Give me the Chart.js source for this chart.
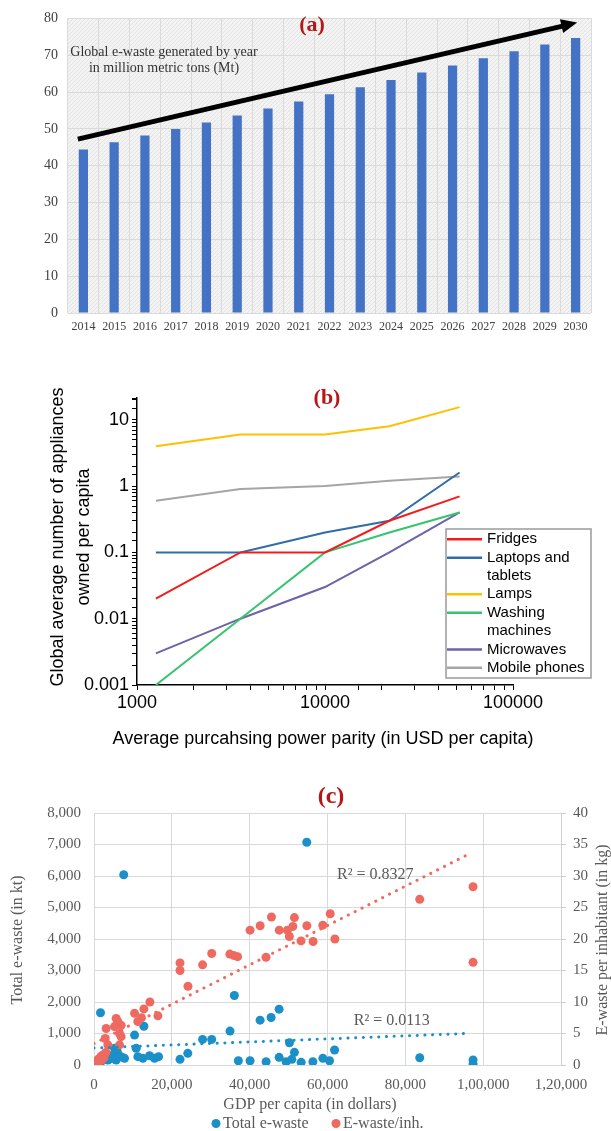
<!DOCTYPE html>
<html>
<head>
<meta charset="utf-8">
<script src="https://cdn.jsdelivr.net/npm/chart.js@4.4.1/dist/chart.umd.min.js"></script>
<style>
  html, body { margin: 0; padding: 0; background: #fff; }
  body { width: 611px; height: 1131px; position: relative; overflow: hidden; }
  .panel { position: absolute; left: 0; width: 611px; }
  .panel canvas { display: block; }
  #boxA { top: 0; }
  #boxB { top: 370px; }
  #boxC { top: 780px; }
</style>
</head>
<body>
<div class="panel" id="boxA"><canvas id="chartA" width="611" height="345"></canvas></div>
<div class="panel" id="boxB"><canvas id="chartB" width="611" height="400"></canvas></div>
<div class="panel" id="boxC"><canvas id="chartC" width="611" height="351"></canvas></div>
<script>
// ---- (a) global e-waste by year ----
const years = ['2014', '2015', '2016', '2017', '2018', '2019', '2020', '2021', '2022',
               '2023', '2024', '2025', '2026', '2027', '2028', '2029', '2030'];
const ewasteMt = [44.4, 46.4, 48.2, 50.0, 51.7, 53.6, 55.5, 57.4, 59.4,
                  61.3, 63.3, 65.3, 67.2, 69.2, 71.1, 72.9, 74.7];
const yTicksA = [0, 10, 20, 30, 40, 50, 60, 70, 80];
const arrowFrom = [-0.18, 47.2];   // [category index, Mt]
const arrowTo = [16.05, 78.9];

// ---- (b) appliances owned per capita vs PPP ----
const pppLevels = [1260, 3550, 10000, 22000, 52000];
const fridges = [0.02, 0.1, 0.1, 0.3, 0.7];
const laptops = [0.1, 0.1, 0.2, 0.3, 1.6];
const lamps = [4, 6, 6, 8, 15.5];
const washingMachines = [0.001, 0.01, 0.1, 0.2, 0.4];
const microwaves = [0.003, 0.01, 0.03, 0.1, 0.4];
const mobilePhones = [0.6, 0.9, 1.0, 1.2, 1.4];
const applianceNames = ['Fridges', 'Laptops and tablets', 'Lamps', 'Washing machines', 'Microwaves', 'Mobile phones'];
const applianceLegendLines = [['Fridges'], ['Laptops and', 'tablets'], ['Lamps'], ['Washing', 'machines'], ['Microwaves'], ['Mobile phones']];

// ---- (c) e-waste vs GDP per capita ----
const gdpTotal = [400, 900, 1670, 1830, 2600, 3000, 3550, 4200, 4840, 5270, 5700, 6000, 6980, 7640, 7840,
                  10420, 10840, 11270, 12560, 12820, 14270, 15560, 16590, 22100, 24100, 27900, 30240,
                  34950, 36070, 37090, 40100, 42680, 44220, 45510, 47570, 47570, 49370, 50220, 50830,
                  51500, 53230, 54670, 56240, 58810, 60520, 61810, 83700, 97400, 97400];
const totalEwasteKt = [60, 120, 1660, 106, 250, 380, 158, 200, 316, 528, 158, 420, 264, 6040, 211,
                       950, 528, 264, 211, 1230, 295, 211, 264, 180, 370, 813, 813,
                       1076, 2205, 136, 136, 1424, 104, 1509, 1772, 243, 104, 706, 180,
                       402, 85, 7070, 104, 211, 136, 475, 230, 158, 30];
const gdpPerInh = [300, 550, 900, 1200, 1400, 1800, 2000, 2300, 2600, 3100, 3550, 2870, 3120, 5270, 5700,
                   6100, 6980, 6560, 6980, 6560, 10420, 11270, 12200, 12820, 14360, 16420, 22100, 22100,
                   24150, 27900, 30250, 34900, 35900, 36900, 40100, 42700, 44200, 45600, 47600, 49700,
                   50200, 51100, 51500, 53200, 54700, 56300, 58800, 60700, 61900, 83700, 97400, 97400];
const ewastePerInhKg = [0.3, 0.6, 0.8, 0.5, 1.05, 1.4, 0.8, 1.6, 1.2, 2.0, 3.2, 4.2, 5.8, 6.1, 7.4,
                        6.9, 6.3, 5.0, 4.5, 3.2, 8.2, 6.9, 7.5, 8.9, 10.0, 7.8, 16.2, 15.0,
                        12.5, 15.9, 17.7, 17.6, 17.4, 17.2, 21.4, 22.1, 17.1, 23.5, 21.4, 21.4,
                        20.4, 22.0, 23.4, 19.7, 22.1, 19.6, 22.2, 24.0, 20.0, 26.3, 28.3, 16.3];
const trendGdpTotal = [0, 95700];
const trendTotalKt = [540, 1000];
const trendGdpPerInh = [0, 96700];
const trendPerInhKg = [3.4, 33.6];
const r2Texts = ['R² = 0.8327', 'R² = 0.0113'];
const r2Anchors = [[72300, 30.2, 'y1'], [76500, 1400, 'y']];

const serif = "'Liberation Serif', 'Times New Roman', serif";
const sans = "'Liberation Sans', Arial, sans-serif";
const panelRed = '#b51717';

Chart.defaults.animation = false;

function drawText(ctx, text, x, y, font, color, align, rot) {
    ctx.save();
    ctx.translate(x, y);
    if (rot) ctx.rotate(rot);
    ctx.font = font;
    ctx.fillStyle = color;
    ctx.textAlign = align || 'center';
    ctx.textBaseline = 'middle';
    ctx.fillText(text, 0, 0);
    ctx.restore();
}

function indianFormat(v) {
    const s = String(Math.round(v));
    if (s.length <= 3) return s;
    const rest = s.slice(0, -3).replace(/\B(?=(\d{2})+(?!\d))/g, ',');
    return rest + ',' + s.slice(-3);
}

const isDecade = v => Math.abs(Math.log10(v) - Math.round(Math.log10(v))) < 1e-6;

// hatched plot background like the original spreadsheet chart
const hatchTile = document.createElement('canvas');
hatchTile.width = 4; hatchTile.height = 4;
(function () {
    const g = hatchTile.getContext('2d');
    g.fillStyle = '#f3f3f3';
    g.fillRect(0, 0, 4, 4);
    g.strokeStyle = '#e3e3e3';
    g.lineWidth = 1;
    g.beginPath(); g.moveTo(0, 4); g.lineTo(4, 0); g.stroke();
})();

// ================= (a) =================
new Chart(document.getElementById('chartA'), {
    type: 'bar',
    data: {
        labels: years,
        datasets: [{
            data: ewasteMt,
            backgroundColor: '#4472c4',
            barPercentage: 0.3,
            categoryPercentage: 1
        }]
    },
    options: {
        responsive: false,
        layout: { padding: { top: 13, right: 20, bottom: 4, left: 0 } },
        plugins: { legend: { display: false }, tooltip: { enabled: false } },
        scales: {
            x: {
                grid: { color: '#dadada', drawTicks: false },
                border: { display: false },
                ticks: { padding: 7, color: '#404040', font: { family: serif, size: 12 } },
                afterFit: s => { s.height = 28; }
            },
            y: {
                min: 0,
                max: 80,
                afterBuildTicks: s => { s.ticks = yTicksA.map(v => ({ value: v })); },
                grid: { color: '#dadada', drawTicks: false },
                border: { display: false },
                ticks: { padding: 10, color: '#404040', font: { family: serif, size: 14 } },
                afterFit: s => { s.width = 68; }
            }
        }
    },
    plugins: [{
        id: 'panelA',
        beforeDraw(chart) {
            const { ctx, chartArea: a } = chart;
            ctx.save();
            ctx.fillStyle = ctx.createPattern(hatchTile, 'repeat');
            ctx.fillRect(a.left, a.top, a.right - a.left, a.bottom - a.top);
            ctx.restore();
        },
        afterDatasetsDraw(chart) {
            const { ctx, scales: { x, y } } = chart;
            const x0 = x.getPixelForValue(arrowFrom[0]), y0 = y.getPixelForValue(arrowFrom[1]);
            const x1 = x.getPixelForValue(arrowTo[0]), y1 = y.getPixelForValue(arrowTo[1]);
            const ang = Math.atan2(y1 - y0, x1 - x0);
            const head = 16, half = 7;
            const bx = x1 - head * Math.cos(ang), by = y1 - head * Math.sin(ang);
            ctx.save();
            ctx.strokeStyle = '#000';
            ctx.lineWidth = 5;
            ctx.beginPath(); ctx.moveTo(x0, y0); ctx.lineTo(bx + 1, by); ctx.stroke();
            ctx.fillStyle = '#000';
            ctx.beginPath();
            ctx.moveTo(x1, y1);
            ctx.lineTo(bx + half * Math.sin(ang), by - half * Math.cos(ang));
            ctx.lineTo(bx - half * Math.sin(ang), by + half * Math.cos(ang));
            ctx.closePath();
            ctx.fill();
            ctx.restore();
        },
        afterDraw(chart) {
            const ctx = chart.ctx;
            drawText(ctx, 'Global e-waste generated by year', 164, 52, '14px ' + serif, '#333');
            drawText(ctx, 'in million metric tons (Mt)', 164, 68, '14px ' + serif, '#333');
            drawText(ctx, '(a)', 312, 25, 'bold 22px ' + serif, panelRed);
        }
    }]
});

// ================= (b) =================
const applianceSeries = [fridges, laptops, lamps, washingMachines, microwaves, mobilePhones];
const applianceColors = ['#f21c1c', '#2f6ca8', '#ffc000', '#34c46c', '#6c63a8', '#a5a5a5'];

new Chart(document.getElementById('chartB'), {
    type: 'line',
    data: {
        datasets: applianceSeries.map((vals, i) => ({
            label: applianceNames[i],
            data: pppLevels.map((p, j) => ({ x: p, y: vals[j] })),
            borderColor: applianceColors[i],
            borderWidth: 2,
            pointRadius: 0,
            fill: false,
            tension: 0
        }))
    },
    options: {
        responsive: false,
        layout: { padding: { top: 28, right: 98, bottom: 45, left: 0 } },
        plugins: { legend: { display: false }, tooltip: { enabled: false } },
        scales: {
            x: {
                type: 'logarithmic',
                min: 1000,
                max: 100000,
                grid: { drawOnChartArea: false, tickLength: 5, color: '#000' },
                border: { color: '#000', width: 1.5 },
                ticks: {
                    autoSkip: false, maxRotation: 0, padding: 2, color: '#000',
                    font: { family: sans, size: 18 },
                    callback: v => isDecade(v) ? String(v) : ''
                },
                afterFit: s => { s.height = 40; }
            },
            y: {
                type: 'logarithmic',
                min: 0.001,
                max: 21.3,
                grid: { drawOnChartArea: false, tickLength: 5, color: '#000' },
                border: { color: '#000', width: 1.5 },
                ticks: {
                    autoSkip: false, padding: 3, color: '#000',
                    font: { family: sans, size: 18 },
                    callback: v => isDecade(v) ? String(v) : ''
                },
                afterFit: s => { s.width = 137; }
            }
        }
    },
    plugins: [{
        id: 'panelB',
        afterDraw(chart) {
            const ctx = chart.ctx;
            drawText(ctx, '(b)', 327, 28, 'bold 22px ' + serif, panelRed);
            drawText(ctx, 'Global average number of appliances', 58, 167, '18px ' + sans, '#000', 'center', -Math.PI / 2);
            drawText(ctx, 'owned per capita', 84, 167, '18px ' + sans, '#000', 'center', -Math.PI / 2);
            drawText(ctx, 'Average purcahsing power parity (in USD per capita)', 323, 369, '18px ' + sans, '#000');
            // legend box
            const bx = 446, by = 159, bw = 145, bh = 149, row = 18.35;
            ctx.save();
            ctx.fillStyle = '#fff';
            ctx.fillRect(bx, by, bw, bh);
            ctx.strokeStyle = '#9a9a9a';
            ctx.lineWidth = 1.5;
            ctx.strokeRect(bx, by, bw, bh);
            let yy = by + 10.3;
            chart.data.datasets.forEach((ds, i) => {
                ctx.strokeStyle = ds.borderColor;
                ctx.lineWidth = 2.5;
                ctx.beginPath(); ctx.moveTo(bx + 1, yy); ctx.lineTo(bx + 36, yy); ctx.stroke();
                applianceLegendLines[i].forEach(line => {
                    drawText(ctx, line, bx + 41, yy, '15px ' + sans, '#000', 'left');
                    yy += row;
                });
            });
            ctx.restore();
        }
    }]
});

// ================= (c) =================
const blueC = '#1b90c8';
const redC = '#ee6a60';

new Chart(document.getElementById('chartC'), {
    type: 'scatter',
    data: {
        datasets: [
            {
                type: 'line',
                label: 'trend per inh',
                data: trendGdpPerInh.map((g, i) => ({ x: g, y: trendPerInhKg[i] })),
                yAxisID: 'y1',
                borderColor: redC,
                borderWidth: 3,
                borderDash: [0.1, 7.6],
                borderCapStyle: 'round',
                pointRadius: 0,
                fill: false,
                order: 0
            },
            {
                type: 'line',
                label: 'trend total',
                data: trendGdpTotal.map((g, i) => ({ x: g, y: trendTotalKt[i] })),
                yAxisID: 'y',
                borderColor: blueC,
                borderWidth: 3,
                borderDash: [0.1, 7.6],
                borderCapStyle: 'round',
                pointRadius: 0,
                fill: false,
                order: 0
            },
            {
                label: 'E-waste/inh.',
                data: gdpPerInh.map((g, i) => ({ x: g, y: ewastePerInhKg[i] })),
                yAxisID: 'y1',
                backgroundColor: redC,
                pointRadius: 4.5,
                pointBorderWidth: 0,
                order: 1
            },
            {
                label: 'Total e-waste',
                data: gdpTotal.map((g, i) => ({ x: g, y: totalEwasteKt[i] })),
                yAxisID: 'y',
                backgroundColor: blueC,
                pointRadius: 4.5,
                pointBorderWidth: 0,
                order: 2
            }
        ]
    },
    options: {
        responsive: false,
        layout: { padding: { top: 33, right: 0, bottom: 34, left: 0 } },
        plugins: { legend: { display: false }, tooltip: { enabled: false } },
        scales: {
            x: {
                type: 'linear',
                min: 0,
                max: 120000,
                grid: { color: '#d9d9d9', drawTicks: false },
                border: { display: false },
                ticks: {
                    stepSize: 20000, padding: 11, color: '#595959',
                    font: { family: serif, size: 15 },
                    callback: v => indianFormat(v)
                },
                afterFit: s => { s.height = 32; }
            },
            y: {
                position: 'left',
                min: 0,
                max: 8000,
                grid: { color: '#d9d9d9', drawTicks: false },
                border: { display: false },
                ticks: {
                    stepSize: 1000, padding: 13, color: '#595959',
                    font: { family: serif, size: 15 },
                    callback: v => indianFormat(v)
                },
                afterFit: s => { s.width = 94; }
            },
            y1: {
                position: 'right',
                min: 0,
                max: 40,
                grid: { drawOnChartArea: false, tickLength: 5, color: '#d0d0d0' },
                border: { color: '#d0d0d0' },
                ticks: {
                    stepSize: 5, padding: 7, color: '#595959',
                    font: { family: serif, size: 15 }
                },
                afterFit: s => { s.width = 50; }
            }
        }
    },
    plugins: [{
        id: 'panelC',
        afterDraw(chart) {
            const { ctx, scales } = chart;
            const grey = '#595959';
            drawText(ctx, '(c)', 331, 17, 'bold 24px ' + serif, panelRed);
            drawText(ctx, 'Total e-waste (in kt)', 18, 160, '16px ' + serif, grey, 'center', -Math.PI / 2);
            drawText(ctx, 'E-waste per inhabitant (in kg)', 603, 160, '16px ' + serif, grey, 'center', -Math.PI / 2);
            drawText(ctx, 'GDP per capita (in dollars)', 310, 325, '16px ' + serif, grey);
            r2Texts.forEach((t, i) => {
                const [gx, gy, axis] = r2Anchors[i];
                drawText(ctx, t, scales.x.getPixelForValue(gx), scales[axis].getPixelForValue(gy), '16px ' + serif, grey);
            });
            // legend (scatter series only)
            const items = [[chart.data.datasets[3], 216], [chart.data.datasets[2], 336]];
            ctx.save();
            items.forEach(([ds, lx]) => {
                ctx.fillStyle = ds.backgroundColor;
                ctx.beginPath(); ctx.arc(lx, 343.5, 4.5, 0, Math.PI * 2); ctx.fill();
                drawText(ctx, ds.label, lx + 7, 343.5, '16px ' + serif, grey, 'left');
            });
            ctx.restore();
        }
    }]
});
</script>
</body>
</html>
